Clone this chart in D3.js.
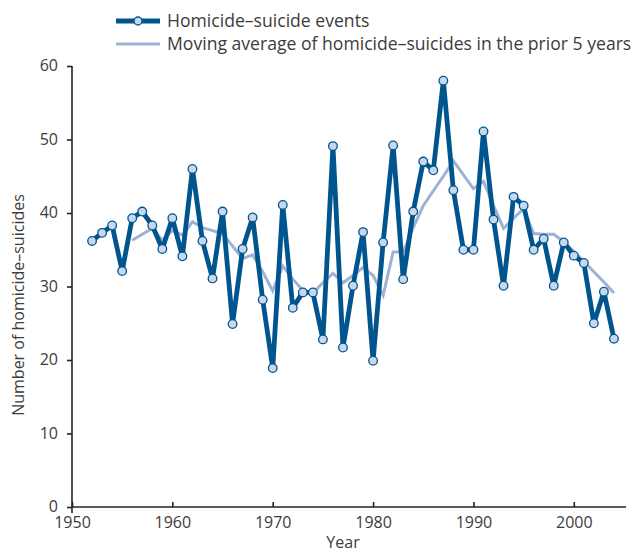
<!DOCTYPE html>
<html lang="en">
<head>
  <meta charset="UTF-8">
  <title>Homicide-suicide events</title>
  <style>
    body{ margin: 0; background: #fff; }
    svg text{ font-family: "Open Sans", "Liberation Sans", sans-serif; fill: #3c3c3c; }
    .axis path, .axis line{ stroke: #222; stroke-width: 1.6; }
  </style>
</head>
<body>
  <script src="https://cdn.jsdelivr.net/npm/d3@7/dist/d3.min.js"></script>
  <script>
    // yearly counts, 1952-2004
    const years = d3.range(1952, 2005);
    const events = [
      36.2, 37.3, 38.3, 32.1, 39.3, 40.2, 38.3, 35.1, 39.3, 34.1,
      46.0, 36.2, 31.1, 40.2, 24.9, 35.1, 39.4, 28.2, 18.9, 41.1,
      27.1, 29.2, 29.2, 22.8, 49.1, 21.7, 30.1, 37.4, 19.9, 36.0,
      49.2, 31.0, 40.2, 47.0, 45.8, 58.0, 43.1, 35.0, 35.0, 51.1,
      39.1, 30.1, 42.2, 41.0, 35.0, 36.5, 30.1, 36.0, 34.2, 33.2,
      25.0, 29.3, 22.9
    ];
    // moving average, 1956-2004
    const maYears = d3.range(1956, 2005);
    const movingAvg = [
      36.3, 37.1, 37.9, 36.3, 37.6, 37.0, 38.8, 38.0, 37.6, 37.2,
      35.5, 33.8, 34.3, 32.0, 29.4, 32.8, 31.0, 29.5, 29.1, 30.5,
      31.8, 30.5, 31.5, 32.6, 31.5, 28.8, 34.7, 34.7, 38.0, 41.0,
      43.0, 45.0, 47.1, 45.2, 43.3, 44.3, 41.0, 37.9, 39.3, 40.6,
      37.2, 37.1, 37.1, 36.1, 34.8, 33.4, 32.0, 30.6, 29.1
    ];
    const xTicks = [1950, 1960, 1970, 1980, 1990, 2000];
    const yTicks = [0, 10, 20, 30, 40, 50, 60];
    const legendLabels = ['Homicide\u2013suicide events', 'Moving average of homicide\u2013suicides in the prior 5 years'];

    const width = 639, height = 554;
    const dark = '#00558f', light = '#9db2d6', dot = '#c9d7ec';

    const svg = d3.select('body').append('svg')
      .attr('width', width)
      .attr('height', height);

    const x = d3.scaleLinear().domain([1950, 2005.2]).range([72, 626]);
    const y = d3.scaleLinear().domain([0, 60]).range([507, 66]);

    // axes
    svg.append('g')
      .attr('class', 'axis')
      .attr('transform', `translate(0,${y(0)})`)
      .call(d3.axisBottom(x).tickValues(xTicks).tickFormat(d3.format('d')).tickSize(-5).tickPadding(7))
      .call(g => g.select('.domain').attr('d', `M${x(1950)},0H${x(2005.2)}`))
      .selectAll('text').attr('font-size', 16).attr('dy', '0.9em');

    svg.append('g')
      .attr('class', 'axis')
      .attr('transform', `translate(${x(1950)},0)`)
      .call(d3.axisLeft(y).tickValues(yTicks).tickSize(5).tickPadding(9))
      .call(g => g.select('.domain').attr('d', `M0,${y(60)}V${y(0) + 6}`))
      .selectAll('text').attr('font-size', 16).attr('dy', '0.3em');

    svg.selectAll('.axis text').attr('font-family', null).attr('fill', null);

    svg.append('text')
      .attr('x', 343).attr('y', 548)
      .attr('text-anchor', 'middle')
      .attr('font-size', 16)
      .text('Year');

    svg.append('text')
      .attr('transform', 'translate(24,305) rotate(-90)')
      .attr('text-anchor', 'middle')
      .attr('font-size', 16)
      .text('Number of homicide\u2013suicides');

    // moving average line
    svg.append('path')
      .datum(maYears.map((yr, i) => [yr, movingAvg[i]]))
      .attr('fill', 'none')
      .attr('stroke', light)
      .attr('stroke-width', 3)
      .attr('d', d3.line().x(d => x(d[0])).y(d => y(d[1])));

    // events line + markers
    const pts = years.map((yr, i) => [yr, events[i]]);
    svg.append('path')
      .datum(pts)
      .attr('fill', 'none')
      .attr('stroke', dark)
      .attr('stroke-width', 4.8)
      .attr('stroke-linejoin', 'round')
      .attr('d', d3.line().x(d => x(d[0])).y(d => y(d[1])));

    svg.selectAll('circle.pt')
      .data(pts)
      .join('circle')
      .attr('class', 'pt')
      .attr('cx', d => x(d[0]))
      .attr('cy', d => y(d[1]))
      .attr('r', 4.3)
      .attr('fill', dot)
      .attr('stroke', dark)
      .attr('stroke-width', 1.3);

    // legend
    const legend = svg.append('g');
    legend.append('line')
      .attr('x1', 116).attr('x2', 160).attr('y1', 21).attr('y2', 21)
      .attr('stroke', dark).attr('stroke-width', 4.8);
    legend.append('circle')
      .attr('cx', 138).attr('cy', 21).attr('r', 4)
      .attr('fill', dot).attr('stroke', dark).attr('stroke-width', 1.3);
    legend.append('line')
      .attr('x1', 116).attr('x2', 160).attr('y1', 44).attr('y2', 44)
      .attr('stroke', light).attr('stroke-width', 3);
    legend.selectAll('text')
      .data(legendLabels)
      .join('text')
      .attr('x', 167)
      .attr('y', (d, i) => 21 + i * 23)
      .attr('dy', '0.36em')
      .attr('font-size', 17.6)
      .text(d => d);
  </script>
</body>
</html>
